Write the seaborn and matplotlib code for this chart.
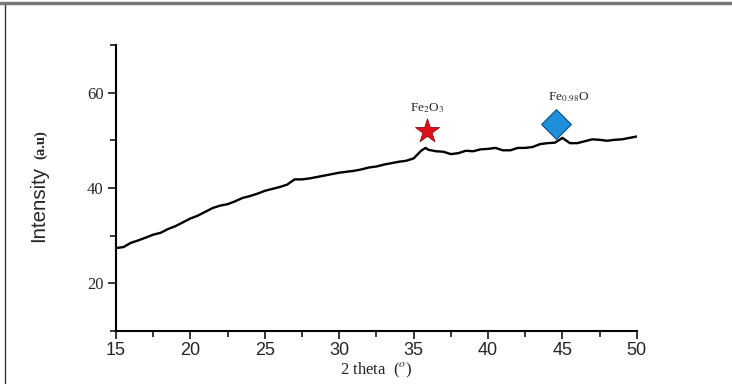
import matplotlib
matplotlib.use("Agg")
import matplotlib.pyplot as plt
import seaborn as sns
import pandas as pd
from matplotlib.lines import Line2D
from matplotlib.ticker import MultipleLocator

# XRD pattern
two_theta = [15.0, 15.5, 16.0, 16.5, 17.0, 17.5, 18.0, 18.5, 19.0, 19.5,
             20.0, 20.5, 21.0, 21.5, 22.0, 22.5, 23.0, 23.5, 24.0, 24.5,
             25.0, 25.5, 26.0, 26.5, 27.0, 27.5, 28.0, 28.5, 29.0, 29.5,
             30.0, 30.5, 31.0, 31.5, 32.0, 32.5, 33.0, 33.5, 34.0, 34.5,
             35.0, 35.5, 35.8, 36.0, 36.5, 37.0, 37.5, 38.0, 38.5, 39.0,
             39.5, 40.0, 40.5, 41.0, 41.5, 42.0, 42.5, 43.0, 43.5, 44.0,
             44.5, 45.0, 45.5, 46.0, 46.5, 47.0, 47.5, 48.0, 48.5, 49.0,
             49.5, 50.0]
intensity = [27.4, 27.6, 28.5, 29.0, 29.6, 30.2, 30.6, 31.4, 32.0, 32.8,
             33.6, 34.2, 35.0, 35.8, 36.3, 36.6, 37.2, 37.9, 38.3, 38.8,
             39.4, 39.8, 40.2, 40.7, 41.8, 41.8, 42.0, 42.3, 42.6, 42.9,
             43.2, 43.4, 43.6, 43.9, 44.3, 44.5, 44.9, 45.2, 45.5, 45.7,
             46.2, 47.8, 48.4, 48.0, 47.7, 47.6, 47.1, 47.3, 47.8, 47.7,
             48.1, 48.2, 48.4, 47.9, 47.9, 48.4, 48.4, 48.6, 49.2, 49.4,
             49.5, 50.5, 49.4, 49.4, 49.8, 50.2, 50.1, 49.9, 50.1, 50.2,
             50.5, 50.8]

phase_labels = ["Fe$_2$O$_3$", "Fe$_{0.98}$O"]
phase_x = [35.9, 44.55]
phase_y = [52.0, 53.5]
label_y = [55.4, 57.6]

df = pd.DataFrame({"two_theta": two_theta, "intensity": intensity})

sns.set_style("ticks")
plt.rcParams["mathtext.fontset"] = "stix"
fig = plt.figure(figsize=(7.32, 3.84), dpi=100)
ax = fig.add_axes([0.1585, 0.138, 0.7115, 0.745])

sns.lineplot(data=df, x="two_theta", y="intensity", color="black", linewidth=1.7, ax=ax)

# phase markers
ax.scatter([phase_x[0]], [phase_y[0]], marker="*", s=330, color="#e0101a",
           edgecolor="#8a0a10", linewidth=0.6, zorder=5)
ax.scatter([phase_x[1]], [phase_y[1]], marker="D", s=230, color="#1e8fd8",
           edgecolor="#0b4f80", linewidth=0.8, zorder=5)
for lab, xx, yy in zip(phase_labels, [phase_x[0], phase_x[1] + 0.9], label_y):
    ax.text(xx, yy, lab, ha="center", va="bottom", fontsize=9.5,
            family="Liberation Serif")

ax.set_xlim(15, 50)
ax.set_ylim(10, 70)
ax.xaxis.set_major_locator(MultipleLocator(5))
ax.xaxis.set_minor_locator(MultipleLocator(2.5))
ax.yaxis.set_minor_locator(MultipleLocator(10))
ax.set_yticks([20, 40, 60])

for side in ["top", "right"]:
    ax.spines[side].set_visible(False)
for side in ["left", "bottom"]:
    ax.spines[side].set_linewidth(1.5)
    ax.spines[side].set_color("black")

ax.tick_params(axis="both", which="major", direction="out", length=6, width=1.3)
ax.tick_params(axis="both", which="minor", direction="out", length=4, width=1.3)
ax.tick_params(axis="x", labelsize=13, pad=2)
ax.tick_params(axis="y", labelsize=12, pad=3)
for t in ax.get_xticklabels():
    t.set_family("Liberation Sans")
for t in ax.get_yticklabels():
    t.set_family("Liberation Serif")

ax.set_xlabel("2 theta  ($^o$)", fontsize=12, family="Liberation Serif", labelpad=1)
ax.set_ylabel("")
fig.text(0.053, 0.370, "Intensity", rotation=90, ha="center", va="bottom",
         fontsize=14.8, family="Liberation Sans")
fig.text(0.056, 0.585, "(a.u)", rotation=90, ha="center", va="bottom",
         fontsize=10.5, family="Liberation Serif", weight="bold")

# frame of the original screenshot
fig.add_artist(Line2D([0, 1], [0.991, 0.991], color="#777777", linewidth=2.5,
                      transform=fig.transFigure))
fig.add_artist(Line2D([0.0075, 0.0075], [0, 0.988], color="#333333", linewidth=1.0,
                      transform=fig.transFigure))

fig.savefig("out.png", dpi=100)
